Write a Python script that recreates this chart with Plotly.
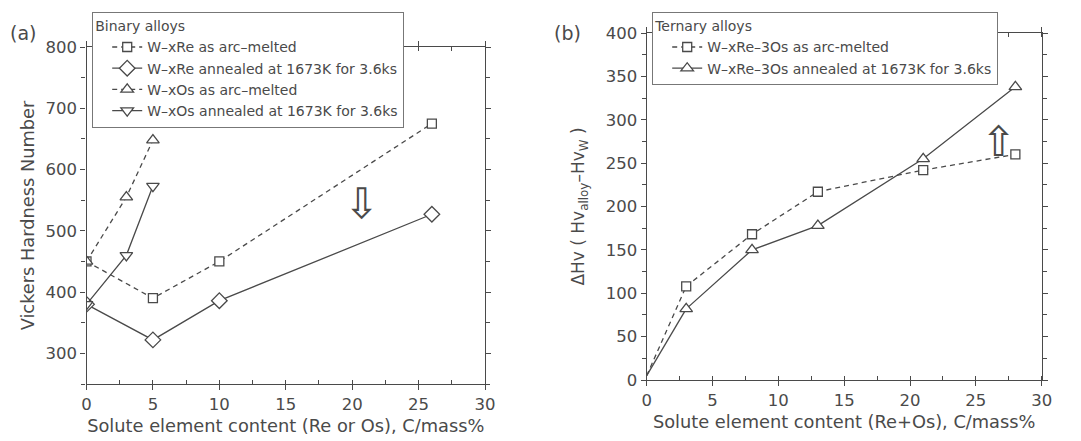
import plotly.graph_objects as go

# ---- data: binary alloys (panel a) ----
re_x = [0, 5, 10, 26]
re_arc = [450, 390, 450, 675]
re_ann = [380, 322, 386, 527]
os_x = [0, 3, 5]
os_arc = [450, 555, 648]
os_ann = [380, 460, 573]

# ---- data: ternary alloys (panel b) ----
tern_x = [0, 3, 8, 13, 21, 28]
tern_arc = [5, 108, 168, 217, 242, 260]
tern_ann = [5, 82, 150, 178, 255, 338]

x_ticks = [0, 5, 10, 15, 20, 25, 30]
ya_ticks = [300, 400, 500, 600, 700, 800]
yb_ticks = [0, 50, 100, 150, 200, 250, 300, 350, 400]

W, H = 1081, 441
INK = "#4a4a4a"
FONT = "DejaVu Sans, Verdana, sans-serif"
DASH = "5px,4px"

fig = go.Figure()


def add_series(x, y, name, symbol, dash, xa, ya, legend, size=10, skip_first=False):
    if skip_first:
        # plain segment from the origin, markers start at the first alloy
        fig.add_trace(go.Scatter(x=x[:2], y=y[:2], mode="lines", showlegend=False,
                                 line=dict(color=INK, width=1.3, dash=dash),
                                 xaxis=xa, yaxis=ya, hoverinfo="skip"))
        x, y = x[1:], y[1:]
    fig.add_trace(go.Scatter(
        x=x, y=y, name=name, mode="lines+markers",
        line=dict(color=INK, width=1.3, dash=dash),
        marker=dict(symbol=symbol, size=size, color="white",
                    line=dict(color=INK, width=1.3)),
        xaxis=xa, yaxis=ya, legend=legend))


add_series(re_x, re_arc, "W\u2013xRe as arc\u2013melted", "square", DASH, "x", "y", "legend", 9)
add_series(re_x, re_ann, "W\u2013xRe annealed at 1673K for 3.6ks", "diamond", "solid", "x", "y", "legend", 12)
add_series(os_x, os_arc, "W\u2013xOs as arc\u2013melted", "triangle-up", DASH, "x", "y", "legend", 11)
add_series(os_x, os_ann, "W\u2013xOs annealed at 1673K for 3.6ks", "triangle-down", "solid", "x", "y", "legend", 11)

add_series(tern_x, tern_arc, "W\u2013xRe\u20133Os as arc-melted", "square", DASH, "x2", "y2", "legend2", 9, True)
add_series(tern_x, tern_ann, "W\u2013xRe\u20133Os annealed at 1673K for 3.6ks", "triangle-up", "solid", "x2", "y2", "legend2", 11, True)


def px_x(a, b):
    return [a / W, b / W]


def px_y(top, bottom):
    return [(H - bottom) / H, (H - top) / H]


axis_common = dict(
    showline=True, linecolor=INK, linewidth=1.3, mirror="allticks",
    ticks="outside", ticklen=5, tickwidth=1.2, tickcolor=INK,
    showgrid=False, zeroline=False, automargin=False,
    tickfont=dict(family=FONT, size=16.5, color=INK),
    title_font=dict(family=FONT, size=17.8, color=INK),
)
minor_x = dict(dtick=2.5, ticks="inside", ticklen=4, tickcolor=INK, tickwidth=1)
LEG_FONT = dict(family=FONT, size=14, color=INK)

fig.update_layout(
    width=W, height=H,
    margin=dict(l=0, r=0, t=0, b=0),
    paper_bgcolor="white", plot_bgcolor="white",
    font=dict(family=FONT, color=INK),
    showlegend=True,
    xaxis=dict(axis_common, domain=px_x(86.5, 485), range=[0, 30], tickvals=x_ticks,
               minor=minor_x, anchor="y", ticklabelstandoff=0,
               title=dict(text="Solute element content (Re or Os), C/mass%", standoff=6)),
    yaxis=dict(axis_common, domain=px_y(47, 384), range=[250, 800], tickvals=ya_ticks,
               minor=dict(dtick=50, ticks="outside", ticklen=4, tickcolor=INK, tickwidth=1),
               anchor="x",
               title=dict(text="Vickers Hardness Number", standoff=6)),
    xaxis2=dict(axis_common, domain=px_x(646.7, 1041.7), range=[0, 30], tickvals=x_ticks,
                minor=minor_x, anchor="y2", ticklabelstandoff=0,
                title=dict(text="Solute element content (Re+Os), C/mass%", standoff=6)),
    yaxis2=dict(axis_common, domain=px_y(33, 380), range=[0, 400], tickvals=yb_ticks,
                minor=dict(dtick=25, ticks="outside", ticklen=4, tickcolor=INK, tickwidth=1),
                anchor="x2",
                title=dict(text="\u0394Hv ( Hv<sub>alloy</sub>\u2013Hv<sub>W</sub> )", standoff=16,
                           font=dict(family=FONT, size=17, color=INK))),
    legend=dict(x=92 / W, y=(H - 12) / H, xanchor="left", yanchor="top",
                bgcolor="white", bordercolor="#777", borderwidth=1.2,
                font=LEG_FONT, title=dict(text="Binary alloys", font=LEG_FONT),
                tracegroupgap=0, itemwidth=30, indentation=14),
    legend2=dict(x=652 / W, y=(H - 12) / H, xanchor="left", yanchor="top",
                 bgcolor="white", bordercolor="#777", borderwidth=1.2,
                 font=LEG_FONT, title=dict(text="Ternary alloys", font=LEG_FONT),
                 tracegroupgap=0, itemwidth=30, indentation=14),
)

# panel labels
fig.add_annotation(text="(a)", x=8 / W, y=(H - 33) / H, xref="paper", yref="paper",
                   showarrow=False, xanchor="left", yanchor="middle",
                   font=dict(family=FONT, size=19, color=INK))
fig.add_annotation(text="(b)", x=552 / W, y=(H - 33) / H, xref="paper", yref="paper",
                   showarrow=False, xanchor="left", yanchor="middle",
                   font=dict(family=FONT, size=19, color=INK))

# hollow trend arrows
fig.add_annotation(text="\u21e9", x=20.7, y=545, xref="x", yref="y", showarrow=False,
                   font=dict(family="DejaVu Sans", size=42, color=INK))
fig.add_annotation(text="\u21e7", x=26.7, y=275, xref="x2", yref="y2", showarrow=False,
                   font=dict(family="DejaVu Sans", size=42, color=INK))

fig.write_html("out.html")
